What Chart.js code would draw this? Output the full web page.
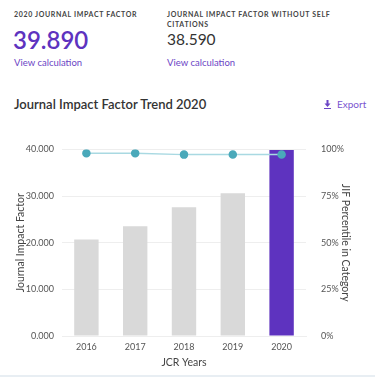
<!DOCTYPE html>
<html>
<head>
<meta charset="utf-8">
<script src="https://cdn.jsdelivr.net/npm/chart.js@4"></script>
<style>
  body { margin: 0; width: 375px; height: 378px; background: #fff; font-family: Lato, sans-serif; position: relative; overflow: hidden; }
  .lbl { position: absolute; font-size: 7px; font-weight: bold; letter-spacing: 0.65px; color: #444; line-height: 10px; }
  .big { position: absolute; font-size: 24px; color: #5e33bf; font-weight: 600; }
  .mid { position: absolute; font-size: 15.5px; color: #333; }
  .link { position: absolute; font-size: 9.5px; color: #6b45c5; }
  .title { position: absolute; left: 14px; top: 96px; font-size: 13px; font-weight: 600; color: #333; }
  .export { position: absolute; left: 324px; top: 98px; font-size: 10px; color: #7b55d0; }
  .export svg { vertical-align: -1px; margin-right: 6px; }
  #wrap { position: absolute; left: 0; top: 136px; width: 375px; height: 238px; }
  .rule { position: absolute; left: 0; top: 375px; width: 375px; height: 2px; background: #e8eef3; }
</style>
</head>
<body>
<div class="lbl" style="left:14px;top:9px;">2020 JOURNAL IMPACT FACTOR</div>
<div class="big" style="left:13px;top:25px;">39.890</div>
<div class="link" style="left:14px;top:57px;">View calculation</div>
<div class="lbl" style="left:167px;top:9px;width:170px;">JOURNAL IMPACT FACTOR WITHOUT SELF CITATIONS</div>
<div class="mid" style="left:167px;top:30px;">38.590</div>
<div class="link" style="left:167px;top:57px;">View calculation</div>
<div class="title">Journal Impact Factor Trend 2020</div>
<div class="export"><svg width="7" height="9" viewBox="0 0 7 9"><path d="M2.5 0h2v3.5h2L3.5 7 0.5 3.5h2z" fill="#6b45c5"/><rect x="0" y="8" width="7" height="1" fill="#6b45c5"/></svg>Export</div>
<div id="wrap"><canvas id="chart"></canvas></div>
<div class="rule"></div>
<script>
var years = ["2016", "2017", "2018", "2019", "2020"];
var impactFactor = [20.7, 23.5, 27.6, 30.6, 39.89];
var percentile = [97.9, 97.9, 97.2, 97.3, 97.3];
var leftTicks = [0, 10, 20, 30, 40];
var rightTicks = [0, 25, 50, 75, 100];

var barColors = years.map(function (y, i) {
  return i === years.length - 1 ? "#5e33bf" : "#d9d9d9";
});

var ctx = document.getElementById("chart").getContext("2d");
var tickFont = { family: "Lato", size: 9 };
var titleFont = { family: "Lato", size: 10.5 };

var chart = new Chart(ctx, {
  data: {
    labels: years,
    datasets: [
      {
        type: "line",
        label: "JIF Percentile",
        data: percentile,
        yAxisID: "y2",
        borderColor: "#a9d9e2",
        borderWidth: 1.5,
        pointBackgroundColor: "#4aa9ba",
        pointBorderColor: "#4aa9ba",
        pointRadius: 3.5,
        order: 0,
      },
      {
        type: "bar",
        label: "Journal Impact Factor",
        data: impactFactor,
        yAxisID: "y",
        backgroundColor: barColors,
        categoryPercentage: 0.5,
        barPercentage: 1,
        order: 1,
      },
    ],
  },
  options: {
    responsive: true,
    maintainAspectRatio: false,
    animation: false,
    layout: { padding: { top: 13, left: 14, right: 23, bottom: 0 } },
    plugins: { legend: { display: false }, tooltip: { enabled: false } },
    scales: {
      x: {
        afterFit: function (s) { s.height = 38; },
        grid: { display: false, drawTicks: false },
        border: { color: "#eeeeee" },
        ticks: { color: "#555", font: tickFont, padding: 6 },
        title: { display: true, text: "JCR Years", color: "#444", font: titleFont, padding: { top: 3, bottom: 5 } },
      },
      y: {
        position: "left",
        min: 0,
        max: 40,
        afterBuildTicks: function (s) { s.ticks = leftTicks.map(function (v) { return { value: v }; }); },
        afterFit: function (s) { s.width = 48; },
        grid: { color: "#eeeeee", drawTicks: false },
        border: { display: false },
        ticks: {
          color: "#555",
          font: tickFont,
          padding: 8,
          callback: function (v) { return v.toFixed(3); },
        },
        title: { display: true, text: "Journal Impact Factor", color: "#444", font: titleFont, padding: 0 },
      },
      y2: {
        position: "right",
        min: 0,
        max: 100,
        afterBuildTicks: function (s) { s.ticks = rightTicks.map(function (v) { return { value: v }; }); },
        afterFit: function (s) { s.width = 46; },
        grid: { display: false },
        border: { display: false },
        ticks: {
          color: "#555",
          font: tickFont,
          padding: 7,
          callback: function (v) { return v + "%"; },
        },
        title: { display: true, text: "JIF Percentile in Category", color: "#444", font: titleFont, padding: 0 },
      },
    },
  },
});
</script>
</body>
</html>
